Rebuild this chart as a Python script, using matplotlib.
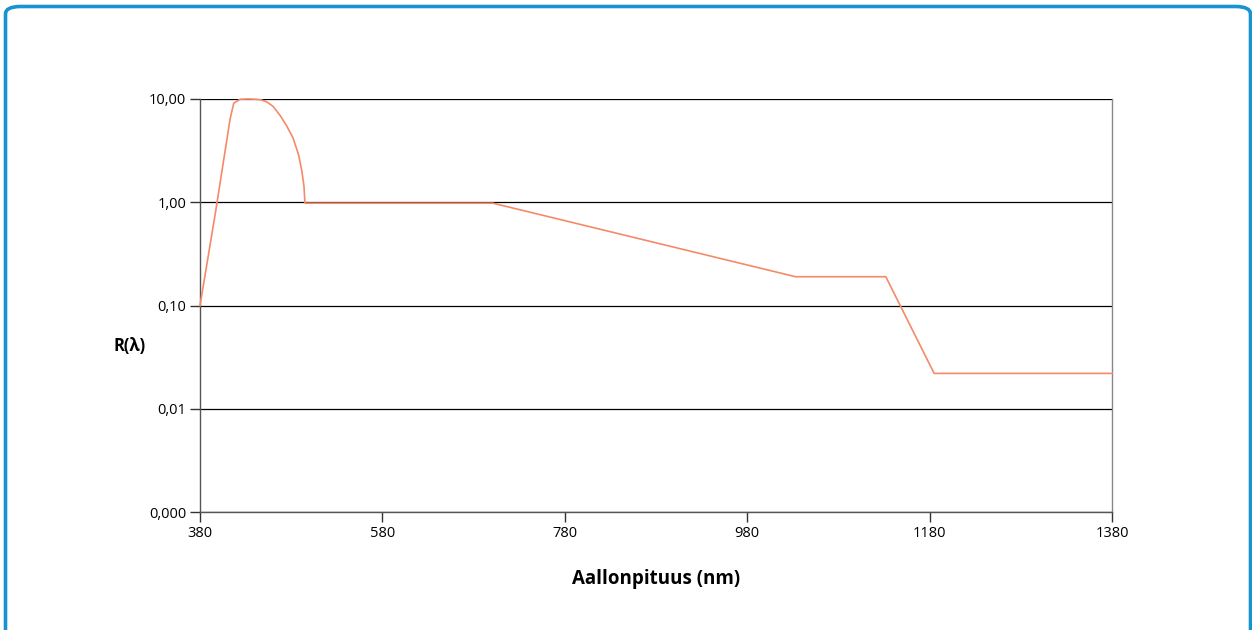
import matplotlib
matplotlib.use("Agg")
import matplotlib.pyplot as plt
from matplotlib.patches import FancyBboxPatch
from matplotlib.ticker import FixedLocator, FixedFormatter, NullLocator

plt.rcParams['font.family'] = ['Open Sans', 'DejaVu Sans']

# Data (wavelength in nm, R(lambda))
wavelength = [380, 397, 413, 417, 424, 433, 442, 447, 453, 460, 468, 475, 482, 488, 491.5, 494, 495,
              495.5, 701, 1033, 1132, 1185, 1380]
r_lambda = [0.10, 0.8, 6.4, 9.1, 9.95, 10.0, 9.95, 9.8, 9.4, 8.5, 6.9, 5.5, 4.2, 2.9, 2.05, 1.44, 1.0,
            0.98, 0.98, 0.19, 0.19, 0.022, 0.022]

x_ticks = [380, 580, 780, 980, 1180, 1380]
y_ticks = [0.001, 0.01, 0.1, 1, 10]
y_tick_labels = ["0,000", "0,01", "0,10", "1,00", "10,00"]

W, H = 1252, 630
fig = plt.figure(figsize=(W / 100, H / 100), dpi=100)
fig.patch.set_facecolor('white')

# rounded blue border
border = FancyBboxPatch((5.5 / W, -20 / H), (1250.5 - 5.5) / W, (H + 20 - 6.5) / H,
                        boxstyle="round,pad=0,rounding_size=0.012",
                        transform=fig.transFigure, fill=False,
                        edgecolor='#1793d1', linewidth=2.6, clip_on=False)
fig.patches.append(border)

ax = fig.add_axes([200 / W, 1 - 512 / H, (1112 - 200) / W, (512 - 99) / H])
ax.plot(wavelength, r_lambda, color='#f58a68', linewidth=1.2, zorder=3, clip_on=False)

ax.set_yscale('log')
ax.set_xlim(380, 1380)
ax.set_ylim(0.001, 10)
ax.yaxis.set_major_locator(FixedLocator(y_ticks))
ax.yaxis.set_major_formatter(FixedFormatter(y_tick_labels))
ax.yaxis.set_minor_locator(NullLocator())
ax.set_xticks(x_ticks)
ax.set_xticklabels([str(v) for v in x_ticks])

ax.grid(axis='y', color='black', linewidth=0.9, zorder=1)
ax.set_axisbelow(True)
for side in ['left', 'bottom']:
    ax.spines[side].set_color('#555555')
    ax.spines[side].set_linewidth(1.0)
ax.spines['right'].set_color('#888888')
ax.spines['right'].set_linewidth(1.0)
ax.spines['top'].set_visible(False)

ax.tick_params(axis='both', direction='out', length=7, width=1.0, color='#333333',
               labelsize=10.5, labelcolor='black')
ax.tick_params(axis='y', pad=3)
ax.tick_params(axis='x', pad=3)

ax.set_xlabel('Aallonpituus (nm)', fontsize=13.5, fontweight='bold', labelpad=20)
ax.set_ylabel('R(λ)', fontsize=12, fontweight='bold', rotation=0, labelpad=0)
ax.yaxis.set_label_coords(-0.077, 0.38)

fig.savefig('out.png', dpi=100, facecolor='white')
